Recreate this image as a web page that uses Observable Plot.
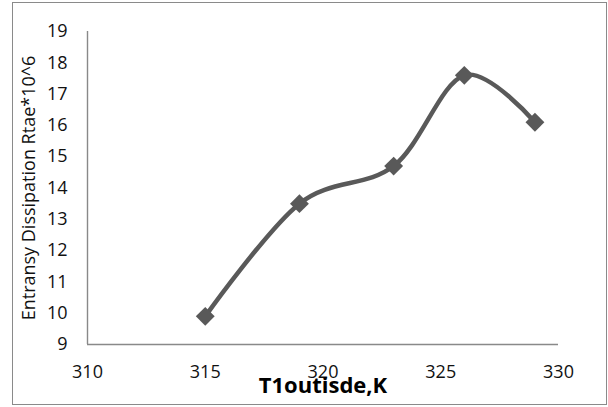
<!DOCTYPE html>
<html><head><meta charset="utf-8">
<script src="https://cdn.jsdelivr.net/npm/d3@7"></script>
<script src="https://cdn.jsdelivr.net/npm/@observablehq/plot@0.6"></script>
<style>
body{margin:0;background:#fff}
#wrap{position:relative;width:608px;height:407px}
#wrap svg{position:absolute;left:0;top:0}
#frame{position:absolute;left:12px;top:2px;width:595px;height:403px;box-sizing:border-box;border:1.5px solid #8a8a8a;pointer-events:none}
</style></head><body><div id="wrap"></div>
<script>
const temps = [315, 319, 323, 326, 329];
const rates = [9.9, 13.5, 14.7, 17.6, 16.1];
const xTicks = [310, 315, 320, 325, 330];
const yTicks = [9, 10, 11, 12, 13, 14, 15, 16, 17, 18, 19];
const xTitle = "T1outisde,K";
const yTitle = "Entransy Dissipation Rtae*10^6";

const data = temps.map((t, i) => ({t, r: rates[i]}));
const col = "#595959";

const chart = Plot.plot({
  width: 608,
  height: 407,
  marginLeft: 87,
  marginRight: 50,
  marginTop: 31,
  marginBottom: 63,
  style: {fontFamily: "'Open Sans', sans-serif", fontSize: "18px", color: "#111", background: "transparent"},
  x: {domain: [310, 330]},
  y: {domain: [9, 19]},
  marks: [
    Plot.ruleY([9], {stroke: "#898989", strokeWidth: 1.4}),
    Plot.ruleX([310], {stroke: "#898989", strokeWidth: 1.4}),
    Plot.axisX({ticks: xTicks, tickSize: 0, tickPadding: 21, label: null, tickFormat: d => String(d)}),
    Plot.axisY({ticks: yTicks, tickSize: 0, tickPadding: 20, label: null, tickFormat: d => String(d)}),
    Plot.line(data, {x: "t", y: "r", curve: "cardinal", stroke: col, strokeWidth: 4.5}),
    Plot.dot(data, {x: "t", y: "r", symbol: "diamond2", r: 8.5, fill: col, stroke: "none"}),
    Plot.text([xTitle], {text: d => d, frameAnchor: "bottom", lineAnchor: "bottom", textAnchor: "middle", dy: 48, fontWeight: "bold", fontSize: 22, fill: "#000"}),
    Plot.text([yTitle], {text: d => d, frameAnchor: "left", lineAnchor: "middle", textAnchor: "middle", rotate: -90, dx: -58, fontSize: 18, fill: "#111"})
  ]
});
const wrap = document.getElementById("wrap");
wrap.appendChild(chart);
const f = document.createElement("div");
f.id = "frame";
wrap.appendChild(f);
</script></body></html>
